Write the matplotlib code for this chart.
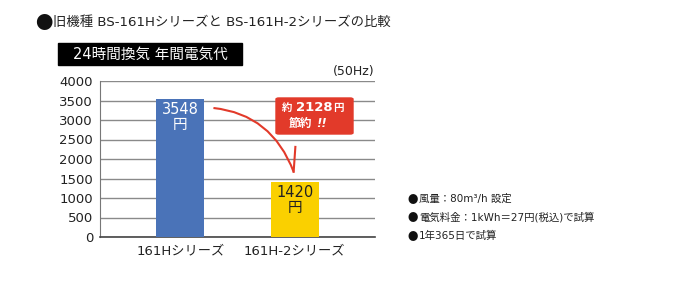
import numpy as np
import matplotlib.pyplot as plt
from matplotlib.patches import FancyBboxPatch
from matplotlib.path import Path
from matplotlib.patches import PathPatch

plt.rcParams['font.family'] = ['DejaVu Sans', 'Noto Sans CJK JP']

# データ
kishu = ['161Hシリーズ', '161H-2シリーズ']
denkidai = [3548, 1420]
iro = ['#4a73b8', '#fad000']
yticks = np.arange(0, 4001, 500)
chuki = ['風量：80m³/h 設定', '電気料金：1kWh＝27円(税込)で試算', '1年365日で試算']

fig = plt.figure(figsize=(7, 3), dpi=100)
ax = fig.add_axes([100/700, 1-237/300, 275/700, 156/300])

x = np.arange(len(kishu))
ax.bar(x, denkidai, width=0.42, color=iro, zorder=3)
ax.set_xlim(-0.7, 1.7)
ax.set_ylim(0, 4000)
ax.set_yticks(yticks)
ax.set_xticks(x)
ax.set_xticklabels(kishu, fontsize=9.5)
ax.tick_params(axis='both', length=0, labelsize=9.5, pad=5, colors='#222222')
ax.tick_params(axis='x', pad=5)
ax.grid(axis='y', color='#8a8a8a', lw=1, zorder=1)
for s in ['top', 'right']:
    ax.spines[s].set_visible(False)
ax.spines['left'].set_color('#777777')
ax.spines['bottom'].set_color('#444444')
ax.spines['bottom'].set_linewidth(1.2)

# バーの値
lbl_col = ['white', '#222222']
for i, v in enumerate(denkidai):
    ax.text(x[i], v - 90, f'{v}\n円', ha='center', va='top', fontsize=10.5,
            color=lbl_col[i], linespacing=1.0, zorder=4)

# 矢印カーブ
p0 = (0.29, denkidai[0] - 240)
p1 = (0.80, denkidai[0] - 400)
p2 = (0.99, denkidai[1] + 250)
path = Path([p0, p1, p2], [Path.MOVETO, Path.CURVE3, Path.CURVE3])
ax.add_patch(PathPatch(path, fill=False, color='#e23a2a', lw=1.5, zorder=4))
ax.plot([p2[0], 1.005], [p2[1], p2[1] + 640], color='#e23a2a', lw=1.5, zorder=4)

# 節約ボックス
saving = denkidai[0] - denkidai[1]
fig.patches.append(FancyBboxPatch((276/700, 1-134/300), 77/700, 36/300,
                                  boxstyle='round,pad=0,rounding_size=0.004',
                                  transform=fig.transFigure, color='#e23a2a'))
fig.text(287/700, 1-111/300, '約', ha='center', va='baseline',
         fontsize=7.5, color='white', fontweight='bold')
fig.text(314/700, 1-111/300, f'{saving}', ha='center', va='baseline',
         fontsize=9.5, color='white', fontweight='bold')
fig.text(338/700, 1-111/300, '円', ha='center', va='baseline',
         fontsize=7.5, color='white', fontweight='bold')
fig.text(312/700, 1-127/300, '節約', ha='right', va='baseline',
         fontsize=8.5, color='white', fontweight='bold')
fig.text(316/700, 1-127/300, '!!', ha='left', va='baseline',
         fontsize=8.5, color='white', fontweight='bold', style='italic')

# タイトル
fig.text(35/700, 1-28.5/300, '●', ha='left', va='baseline', fontsize=12.5,
         color='#111111', family='Noto Sans CJK JP')
fig.text(53/700, 1-26/300, '旧機種 BS-161Hシリーズと BS-161H-2シリーズの比較',
         ha='left', va='baseline', fontsize=9.6, color='#222222')
fig.patches.append(plt.Rectangle((58/700, 1-65/300), 184/700, 22/300,
                                 transform=fig.transFigure, color='black'))
fig.text(150/700, 1-54/300, '24時間換気 年間電気代', ha='center', va='center',
         fontsize=10.5, color='white')
fig.text(375/700, 1-72/300, '(50Hz)', ha='right', va='center', fontsize=9,
         color='#222222')

# 注記
for i, t in enumerate(chuki):
    yb = 1 - (202 + 18.5 * i) / 300
    fig.text(407/700, yb - 1/300, '●', ha='left', va='baseline',
             fontsize=7.5, color='#111111', family='Noto Sans CJK JP')
    fig.text(419/700, yb, t, ha='left', va='baseline',
             fontsize=7.5, color='#222222')

fig.savefig('out.png', dpi=100, facecolor='white')
